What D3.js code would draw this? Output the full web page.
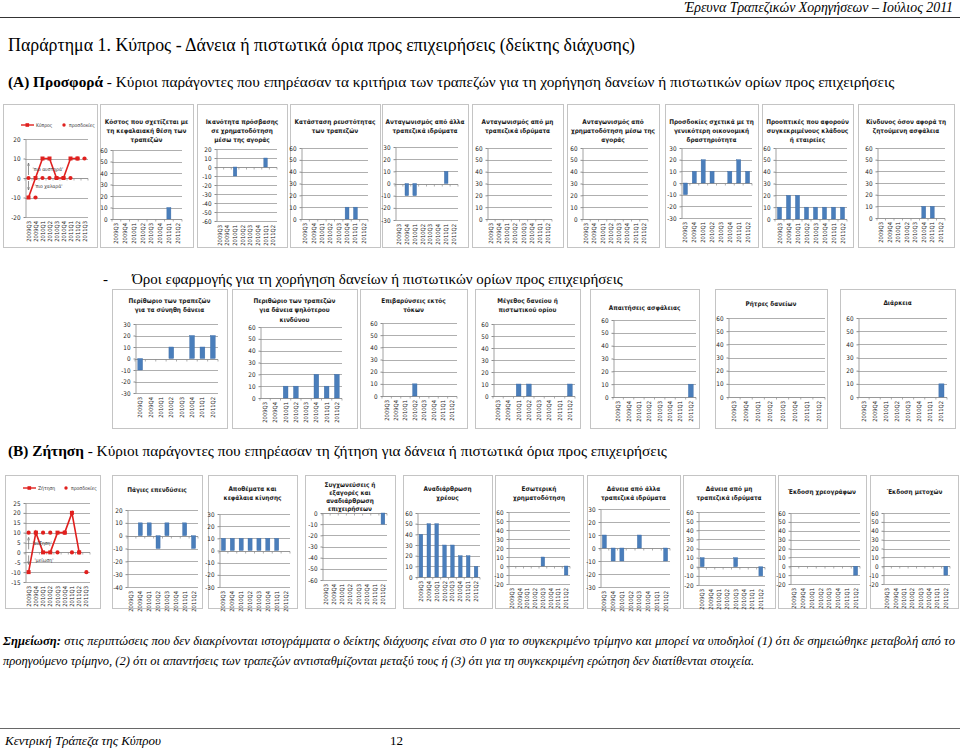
<!DOCTYPE html>
<html><head><meta charset="utf-8">
<script src="https://cdn.jsdelivr.net/npm/d3@7"></script>
<style>body{margin:0;background:#fff}svg{display:block}</style>
</head><body>
<svg id="c" width="960" height="748"></svg>
<script>
// ---------- DATA ----------
const quarters = ["2009Q3","2009Q4","2010Q1","2010Q2","2010Q3","2010Q4","2011Q1","2011Q2"];
const quartersExt = ["2009Q3","2009Q4","2010Q1","2010Q2","2010Q3","2010Q4","2011Q1","2011Q2","2011Q3"];

// (A) Supply – credit standards, Cyprus vs expectations
const supplyCyprus  = [-10, 0, 10, 10, 0, 0, 10, 10, null];
const supplyExpect  = [0, -10, 0, 0, 0, 0, 0, 10, 10];
// factors
const costCapital     = [0,0,0,0,0,0,10,0];
const marketAccess    = [0,0,-10,0,0,0,10,0];
const liquidity       = [0,0,0,0,0,10,10,0];
const compBanks       = [0,-10,-10,0,0,0,10,0];
const compNonBanks    = [0,0,0,0,0,0,0,0];
const compMarket      = [0,0,0,0,0,0,0,0];
const econExpect      = [-10,10,20,10,0,10,20,10];
const sectorOutlook   = [10,20,20,10,10,10,10,10];
const collateralRisk  = [0,0,0,0,0,10,10,0];
// terms and conditions
const marginAverage   = [-10,0,0,10,0,20,10,20];
const marginRiskier   = [0,0,10,10,0,20,10,20];
const nonInterest     = [0,0,0,10,0,0,0,0];
const loanSize        = [0,0,10,10,0,0,0,10];
const collateralReq   = [0,0,0,0,0,0,0,10];
const covenants       = [0,0,0,0,0,0,0,0];
const maturity        = [0,0,0,0,0,0,0,10];

// (B) Demand
const demandCyprus    = [-10,10,0,0,10,10,20,0,null];
const demandExpect    = [10,10,10,10,0,10,0,0,-10];
const fixedInvestment = [0,10,10,-10,10,0,10,-10];
const inventories     = [10,10,10,10,10,10,10,0];
const mergers         = [0,0,0,0,0,0,0,-10];
const debtRestructuring = [40,50,50,30,30,20,20,10];
const internalFinancing = [0,0,0,0,10,0,0,-10];
const loansOtherBanks = [10,-10,-10,0,10,0,0,-10];
const loansNonBanks   = [10,0,0,0,10,0,0,-10];
const debtSecurities  = [0,0,0,0,0,0,0,-10];
const equityIssuance  = [0,0,0,0,0,0,0,-10];

// ---------- LAYOUT ----------
const FT = '"Liberation Sans Narrow","DejaVu Sans Condensed","Liberation Sans",sans-serif';
const FS = '"Liberation Serif","DejaVu Serif","Times New Roman",serif';
const BAR = "#4a7ebb", RED = "#e0201e", GRID = "#8c8c8c", BORDER = "#c4c4c4";

const svg = d3.select("#c");
const defs = svg.append("defs");
defs.append("marker").attr("id","ah").attr("viewBox","0 0 10 10").attr("refX",9).attr("refY",5)
  .attr("markerWidth",5).attr("markerHeight",5).attr("orient","auto-start-reverse")
  .append("path").attr("d","M0,1 L9,5 L0,9").attr("fill","none").attr("stroke","#666").attr("stroke-width",1.4);

function frame(g, box) {
  g.append("rect").attr("x",box[0]+.5).attr("y",box[1]+.5)
    .attr("width",box[2]-box[0]).attr("height",box[3]-box[1])
    .attr("fill","#fff").attr("stroke",BORDER).attr("stroke-width",1);
}

const fmt = d => String(d);

function axes(g, p, x, y) {
  const [l,t,r,b] = p.plot;
  const ticks = d3.range(p.dom[0], p.dom[1] + 0.001, p.step);
  g.append("g").selectAll("line").data(ticks.filter(d=>d!==0)).join("line")
    .attr("x1",l).attr("x2",r).attr("y1",d=>Math.round(y(d))+.5).attr("y2",d=>Math.round(y(d))+.5)
    .attr("stroke",GRID).attr("stroke-width",0.7);
  const ya = g.append("g").attr("transform",`translate(${Math.round(l)+.5},0)`)
    .call(d3.axisLeft(y).tickValues(ticks).tickSize(2).tickSizeOuter(0).tickPadding(3).tickFormat(fmt));
  ya.select(".domain").attr("stroke",GRID).attr("stroke-width",0.8);
  ya.selectAll(".tick line").attr("stroke",GRID);
  ya.selectAll("text").attr("font-family",FT).attr("font-size",6.3).attr("fill","#222");
  // category axis line at zero
  const z = Math.round(y(0))+.5;
  g.append("line").attr("x1",l).attr("x2",r).attr("y1",z).attr("y2",z).attr("stroke",GRID).attr("stroke-width",0.9);
  const bounds = x.domain().map(d=>x(d)).concat([x.range()[1]]);
  g.append("g").selectAll("line").data(bounds).join("line")
    .attr("x1",d=>d).attr("x2",d=>d).attr("y1",z).attr("y2",z+2).attr("stroke",GRID).attr("stroke-width",0.7);
  // labels at the bottom
  const xa = g.append("g").attr("transform",`translate(0,${b})`)
    .call(d3.axisBottom(x).tickSize(0).tickPadding(0));
  xa.select(".domain").remove();
  xa.selectAll("text").attr("transform","rotate(-90)").attr("x",-4).attr("y",0).attr("dy","0.35em")
    .attr("text-anchor","end").attr("font-family",FT).attr("font-size",5.8).attr("fill","#222");
}

function barPanel(p) {
  const g = svg.append("g");
  frame(g, p.box);
  const cx = (p.box[0]+p.box[2])/2;
  p.title.forEach((t,i)=> g.append("text").attr("x",cx).attr("y",p.ty+i*(p.lh||9))
    .attr("text-anchor","middle").attr("font-family",FT).attr("font-weight","bold")
    .attr("font-size",6.4).attr("fill","#1a1a1a").text(t));
  const [l,t,r,b] = p.plot;
  const x = d3.scaleBand().domain(quarters).range([l,r]);
  const y = d3.scaleLinear().domain(p.dom).range([b,t]);
  axes(g, p, x, y);
  const bw = x.bandwidth()*0.46;
  g.append("g").selectAll("rect").data(p.values.map((v,i)=>({q:quarters[i],v})).filter(d=>d.v!==0)).join("rect")
    .attr("x",d=>x(d.q)+(x.bandwidth()-bw)/2).attr("width",bw)
    .attr("y",d=>y(Math.max(0,d.v))).attr("height",d=>Math.abs(y(d.v)-y(0)))
    .attr("fill",BAR).attr("stroke","#3a6aa5").attr("stroke-width",0.4);
}

function linePanel(p) {
  const g = svg.append("g");
  frame(g, p.box);
  const [l,t,r,b] = p.plot;
  const x = d3.scaleBand().domain(quartersExt).range([l,r]);
  const y = d3.scaleLinear().domain(p.dom).range([b,t]);
  axes(g, p, x, y);
  const cxq = q => x(q)+x.bandwidth()/2;
  const pts = p.line.map((v,i)=>({q:quartersExt[i],v})).filter(d=>d.v!==null);
  g.append("path").datum(pts).attr("fill","none").attr("stroke",RED).attr("stroke-width",1.6)
    .attr("d",d3.line().x(d=>cxq(d.q)).y(d=>y(d.v)));
  g.append("g").selectAll("rect").data(pts).join("rect")
    .attr("x",d=>cxq(d.q)-2).attr("y",d=>y(d.v)-2).attr("width",4).attr("height",4).attr("fill",RED);
  g.append("g").selectAll("circle").data(p.dots.map((v,i)=>({q:quartersExt[i],v})).filter(d=>d.v!==null)).join("circle")
    .attr("cx",d=>cxq(d.q)).attr("cy",d=>y(d.v)).attr("r",2.1).attr("fill",RED);
  // legend
  const ly = p.ly;
  g.append("line").attr("x1",p.box[0]+18).attr("x2",p.box[0]+31).attr("y1",ly).attr("y2",ly).attr("stroke",RED).attr("stroke-width",1.4);
  g.append("rect").attr("x",p.box[0]+22.5).attr("y",ly-1.8).attr("width",3.6).attr("height",3.6).attr("fill",RED);
  g.append("text").attr("x",p.box[0]+33).attr("y",ly+1.8).attr("font-family",FT).attr("font-size",5).attr("fill","#333").text(p.lname);
  g.append("circle").attr("cx",p.box[0]+61).attr("cy",ly).attr("r",1.7).attr("fill",RED);
  g.append("text").attr("x",p.box[0]+66).attr("y",ly+1.8).attr("font-family",FT).attr("font-size",5).attr("fill","#333").text("προσδοκίες");
  // annotations
  const ax = cxq(quartersExt[0]);
  const z = y(0);
  g.append("line").attr("x1",ax).attr("x2",ax).attr("y1",z-3).attr("y2",z-15).attr("stroke","#666").attr("stroke-width",0.7).attr("marker-end","url(#ah)");
  g.append("line").attr("x1",ax).attr("x2",ax).attr("y1",z+3).attr("y2",z+12).attr("stroke","#666").attr("stroke-width",0.7).attr("marker-end","url(#ah)");
  g.append("text").attr("x",ax+4).attr("y",z-7).attr("font-family",FT).attr("font-size",5).attr("fill","#333").text(p.up);
  g.append("text").attr("x",ax+6).attr("y",z+10).attr("font-family",FT).attr("font-size",5).attr("fill","#333").text(p.down);
}

// ---------- TEXT ----------
function txt(x,y,s,size,opts={}) {
  const t = svg.append("text").attr("x",x).attr("y",y).attr("font-family",FS).attr("font-size",size).attr("fill","#000");
  if (opts.anchor) t.attr("text-anchor",opts.anchor);
  if (opts.italic) t.attr("font-style","italic");
  if (opts.bold) t.attr("font-weight","bold");
  if (opts.len) t.attr("textLength",opts.len).attr("lengthAdjust","spacing");
  return t.text(s);
}
txt(953,12,"Έρευνα Τραπεζικών Χορηγήσεων – Ιούλιος 2011",13.9,{anchor:"end",italic:true});
svg.append("line").attr("x1",0).attr("x2",960).attr("y1",17.5).attr("y2",17.5).attr("stroke","#000").attr("stroke-width",0.8);
txt(8,51,"Παράρτημα 1. Κύπρος - Δάνεια ή πιστωτικά όρια προς επιχειρήσεις (δείκτης διάχυσης)",17.9);
{
  const t = svg.append("text").attr("x",8).attr("y",87).attr("font-family",FS).attr("font-size",15.3);
  t.append("tspan").attr("font-weight","bold").text("(Α) Προσφορά");
  t.append("tspan").text(" - Κύριοι παράγοντες που επηρέασαν τα κριτήρια των τραπεζών για τη χορήγηση δανείων ή πιστωτικών ορίων προς επιχειρήσεις");
}
txt(103,284,"-",15);
txt(132,284,"Όροι εφαρμογής για τη χορήγηση δανείων ή πιστωτικών ορίων προς επιχειρήσεις",15);
{
  const t = svg.append("text").attr("x",8).attr("y",456).attr("font-family",FS).attr("font-size",15.3);
  t.append("tspan").attr("font-weight","bold").text("(Β) Ζήτηση");
  t.append("tspan").text(" - Κύριοι παράγοντες που επηρέασαν τη ζήτηση για δάνεια ή πιστωτικά όρια προς επιχειρήσεις");
}
{
  const t = svg.append("text").attr("x",3).attr("y",645).attr("font-family",FS).attr("font-size",12.6).attr("font-style","italic")
    .attr("textLength",952).attr("lengthAdjust","spacing");
  t.append("tspan").attr("font-weight","bold").text("Σημείωση:");
  t.append("tspan").text(" στις περιπτώσεις που δεν διακρίνονται ιστογράμματα ο δείκτης διάχυσης είναι στο 0 για το συγκεκριμένο τρίμηνο και μπορεί να υποδηλοί (1) ότι δε σημειώθηκε μεταβολή από το");
}
txt(3,665,"προηγούμενο τρίμηνο, (2) ότι οι απαντήσεις των τραπεζών αντισταθμίζονται μεταξύ τους ή (3) ότι για τη συγκεκριμένη ερώτηση δεν διατίθενται στοιχεία.",12.5,{italic:true});
svg.append("line").attr("x1",0).attr("x2",960).attr("y1",728.5).attr("y2",728.5).attr("stroke","#000").attr("stroke-width",0.6);
txt(5,745,"Κεντρική Τράπεζα της Κύπρου",13,{italic:true});
txt(390,745,"12",13);

// ---------- PANELS ----------
const r1 = [104,247], r2 = [289,428], r3 = [475,608];
linePanel({box:[3,r1[0],97,r1[1]], plot:[25,139,88,217], dom:[-20,20], step:10,
  line:supplyCyprus, dots:supplyExpect, lname:"Κύπρος", ly:125, up:"'πιο αυστηρά'", down:"'πιο χαλαρά'"});
const row1 = [
  {box:[100,r1[0],193,r1[1]], plot:[112,150,182,219], dom:[0,60], values:costCapital, title:["Κόστος που σχετίζεται με","τη κεφαλαιακή θέση των","τραπεζών"]},
  {box:[197,r1[0],287,r1[1]], plot:[216,149,277,221], dom:[-60,20], values:marketAccess, title:["Ικανότητα πρόσβασης","σε χρηματοδότηση","μέσω της αγοράς"]},
  {box:[290,r1[0],380,r1[1]], plot:[301,148,368,219], dom:[0,60], values:liquidity, title:["Κατάσταση ρευστότητας","των τραπεζών"]},
  {box:[382,r1[0],468,r1[1]], plot:[395,147,458,220], dom:[-30,30], values:compBanks, title:["Ανταγωνισμός από άλλα","τραπεζικά ιδρύματα"]},
  {box:[472,r1[0],563,r1[1]], plot:[487,148,552,219], dom:[0,60], values:compNonBanks, title:["Ανταγωνισμός από μη","τραπεζικά ιδρύματα"]},
  {box:[567,r1[0],659,r1[1]], plot:[582,148,648,219], dom:[0,60], values:compMarket, title:["Ανταγωνισμός από","χρηματοδότηση μέσω της","αγοράς"]},
  {box:[665,r1[0],758,r1[1]], plot:[681,148,752,218], dom:[-30,30], values:econExpect, title:["Προσδοκίες σχετικά με τη","γενικότερη οικονομική","δραστηριότητα"]},
  {box:[762,r1[0],853,r1[1]], plot:[775,148,847,219], dom:[0,60], values:sectorOutlook, title:["Προοπτικές που αφορούν","συγκεκριμένους κλάδους","ή εταιρείες"]},
  {box:[858,r1[0],954,r1[1]], plot:[877,148,945,218], dom:[0,60], values:collateralRisk, title:["Κίνδυνος όσον αφορά τη","ζητούμενη ασφάλεια"]}
];
row1.forEach(p=>barPanel(Object.assign({step:10, ty:123.5}, p)));

const row2 = [
  {box:[112,r2[0],227,r2[1]], plot:[135,324,218,393], dom:[-30,30], values:marginAverage, title:["Περίθωριο των τραπεζών","για τα σύνηθη δάνεια"], ty:302.5},
  {box:[232,r2[0],357,r2[1]], plot:[260,327,342,398], dom:[0,60], values:marginRiskier, title:["Περιθώριο των τραπεζών","για δάνεια ψηλότερου","κινδύνου"], ty:302.5},
  {box:[360,r2[0],467,r2[1]], plot:[382,323,457,396], dom:[0,60], values:nonInterest, title:["Επιβαρύνσεις εκτός","τόκων"], ty:302.5},
  {box:[475,r2[0],580,r2[1]], plot:[493,324,575,396], dom:[0,60], values:loanSize, title:["Μέγεθος δανείου ή","πιστωτικού ορίου"], ty:302.5},
  {box:[590,r2[0],699,r2[1]], plot:[613,320,696,397], dom:[0,60], values:collateralReq, title:["Απαιτήσεις ασφάλειας"], ty:309.5},
  {box:[715,r2[0],827,r2[1]], plot:[728,318,825,397], dom:[0,60], values:covenants, title:["Ρήτρες δανείων"], ty:305.5},
  {box:[840,r2[0],955,r2[1]], plot:[858,318,947,397], dom:[0,60], values:maturity, title:["Διάρκεια"], ty:304.5}
];
row2.forEach(p=>barPanel(Object.assign({step:10, lh:9.5}, p)));

linePanel({box:[5,r3[0],100,r3[1]], plot:[25,503,90,582], dom:[-15,25], step:5,
  line:demandCyprus, dots:demandExpect, lname:"Ζήτηση", ly:488, up:"'αύξηση'", down:"'μείωση'"});
const row3 = [
  {box:[112,r3[0],202,r3[1]], plot:[127,510,198,587], dom:[-40,20], values:fixedInvestment, title:["Πάγιες επενδύσεις"], ty:492},
  {box:[208,r3[0],297,r3[1]], plot:[219,514,290,587], dom:[-30,30], values:inventories, title:["Αποθέματα και","κεφάλαια κίνησης"], ty:491},
  {box:[305,r3[0],395,r3[1]], plot:[322,513,387,580], dom:[-60,0], values:mergers, title:["Συγχωνεύσεις ή","εξαγορές και","αναδιάρθρωση","επιχειρήσεων"], ty:487, lh:8},
  {box:[403,r3[0],492,r3[1]], plot:[417,513,480,577], dom:[0,60], values:debtRestructuring, title:["Αναδιάρθρωση","χρέους"], ty:491},
  {box:[495,r3[0],583,r3[1]], plot:[508,512,570,584], dom:[-20,60], values:internalFinancing, title:["Εσωτερική","χρηματοδότηση"], ty:491},
  {box:[587,r3[0],680,r3[1]], plot:[600,509,670,587], dom:[-30,30], values:loansOtherBanks, title:["Δάνεια από άλλα","τραπεζικά ιδρύματα"], ty:491},
  {box:[683,r3[0],775,r3[1]], plot:[698,512,765,585], dom:[-20,60], values:loansNonBanks, title:["Δάνεια από μη","τραπεζικά ιδρύματα"], ty:491},
  {box:[778,r3[0],866,r3[1]], plot:[790,513,860,584], dom:[-20,60], values:debtSecurities, title:["Έκδοση χρεογράφων"], ty:494},
  {box:[870,r3[0],958,r3[1]], plot:[883,513,950,584], dom:[-20,60], values:equityIssuance, title:["΄Εκδοση μετοχών"], ty:494}
];
row3.forEach(p=>barPanel(Object.assign({step:10}, p)));
</script>
</body></html>
